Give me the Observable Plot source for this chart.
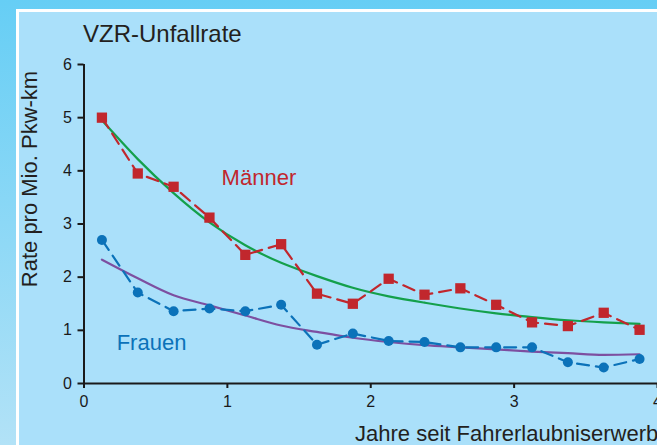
<!DOCTYPE html>
<html>
<head>
<meta charset="utf-8">
<script src="https://cdn.jsdelivr.net/npm/d3@7"></script>
<script src="https://cdn.jsdelivr.net/npm/@observablehq/plot@0.6"></script>
<style>
  html, body { margin: 0; padding: 0; }
  body { width: 657px; height: 445px; overflow: hidden; font-family: "Liberation Sans", Arial, sans-serif; }
  #outer { position: relative; width: 657px; height: 445px; background: linear-gradient(to bottom, #66cef5 0%, #b2e2f7 100%); overflow: hidden; }
  #frame { position: absolute; left: 16px; top: 9px; right: -10px; bottom: -10px; background: #ffffff; }
  #panel { position: absolute; left: 19px; top: 12px; right: -10px; bottom: -10px; background: #aae0fa; }
  #chart { position: absolute; left: 0; top: 0; }
  .lbl { position: absolute; color: #231f20; white-space: nowrap; }
  #title { left: 83px; top: 21.5px; font-size: 24px; line-height: 24px; }
  #ylab { left: 29.5px; top: 179px; font-size: 22px; line-height: 22px; transform: translate(-50%, -50%) rotate(-90deg); }
  #xlab { left: 355px; top: 422.5px; font-size: 22px; line-height: 22px; }
</style>
</head>
<body>
<div id="outer">
  <div id="frame"></div>
  <div id="panel"></div>
  <div id="chart"></div>
  <div class="lbl" id="title">VZR-Unfallrate</div>
  <div class="lbl" id="ylab">Rate pro Mio. Pkw-km</div>
  <div class="lbl" id="xlab">Jahre seit Fahrerlaubniserwerb</div>
</div>
<script>
const years = [0.125, 0.375, 0.625, 0.875, 1.125, 1.375, 1.625, 1.875, 2.125, 2.375, 2.625, 2.875, 3.125, 3.375, 3.625, 3.875];
const maenner = [5.0, 3.95, 3.70, 3.12, 2.42, 2.62, 1.69, 1.50, 1.97, 1.67, 1.79, 1.48, 1.15, 1.08, 1.33, 1.01];
const frauen = [2.70, 1.71, 1.36, 1.41, 1.36, 1.48, 0.73, 0.94, 0.80, 0.78, 0.68, 0.68, 0.68, 0.40, 0.30, 0.46];
const trendMaenner = [4.95, 4.22, 3.58, 3.03, 2.60, 2.27, 2.02, 1.80, 1.64, 1.52, 1.41, 1.32, 1.25, 1.19, 1.15, 1.12];
const trendFrauen = [2.33, 1.98, 1.66, 1.47, 1.28, 1.09, 0.97, 0.86, 0.78, 0.72, 0.68, 0.64, 0.60, 0.57, 0.54, 0.55];
const xTicks = [0, 1, 2, 3, 4];
const yTicks = [0, 1, 2, 3, 4, 5, 6];
const seriesLabels = ["Männer", "Frauen"];

const rot = "#c1272d", blau = "#0b72b9", gruen = "#14a04b", lila = "#7d4fa0", achse = "#1a1a1a";

const men = years.map((x, i) => ({x, y: maenner[i]}));
const women = years.map((x, i) => ({x, y: frauen[i]}));
const fitM = years.map((x, i) => ({x, y: trendMaenner[i]}));
const fitW = years.map((x, i) => ({x, y: trendFrauen[i]}));

const chart = Plot.plot({
  width: 657,
  height: 445,
  marginTop: 64,
  marginBottom: 62,
  marginLeft: 83.5,
  marginRight: 0,
  style: {background: "transparent", fontFamily: "'Liberation Sans', Arial, sans-serif", overflow: "visible"},
  x: {domain: [0, 4]},
  y: {domain: [0, 6]},
  marks: [
    Plot.line(fitM, {x: "x", y: "y", stroke: gruen, strokeWidth: 2.2, curve: "natural"}),
    Plot.line(fitW, {x: "x", y: "y", stroke: lila, strokeWidth: 2.2, curve: "monotone-x"}),
    Plot.line(men, {x: "x", y: "y", stroke: rot, strokeWidth: 2.2, strokeDasharray: "12,7"}),
    Plot.line(women, {x: "x", y: "y", stroke: blau, strokeWidth: 2.2, strokeDasharray: "12,7"}),
    Plot.dot(men, {x: "x", y: "y", symbol: "square", r: 5.8, fill: rot, stroke: null}),
    Plot.dot(women, {x: "x", y: "y", r: 5, fill: blau, stroke: null}),
    Plot.text([seriesLabels[0]], {x: 1.22, y: 3.874, text: d => d, fill: rot, fontSize: 22}),
    Plot.text([seriesLabels[1]], {x: 0.471, y: 0.771, text: d => d, fill: blau, fontSize: 22}),
    Plot.ruleX([0], {y1: 0, y2: 6, stroke: achse, strokeWidth: 2}),
    Plot.ruleY([0], {x1: 0, x2: 4, stroke: achse, strokeWidth: 2}),
    Plot.axisX(xTicks, {tickSize: 5, tickPadding: 7, fontSize: 16, color: achse, strokeWidth: 2, label: null, tickFormat: d => String(d)}),
    Plot.axisY(yTicks, {tickSize: 6, tickPadding: 6, fontSize: 16, color: achse, strokeWidth: 2, label: null, tickFormat: d => String(d)})
  ]
});
document.getElementById("chart").appendChild(chart);
</script>
</body>
</html>
